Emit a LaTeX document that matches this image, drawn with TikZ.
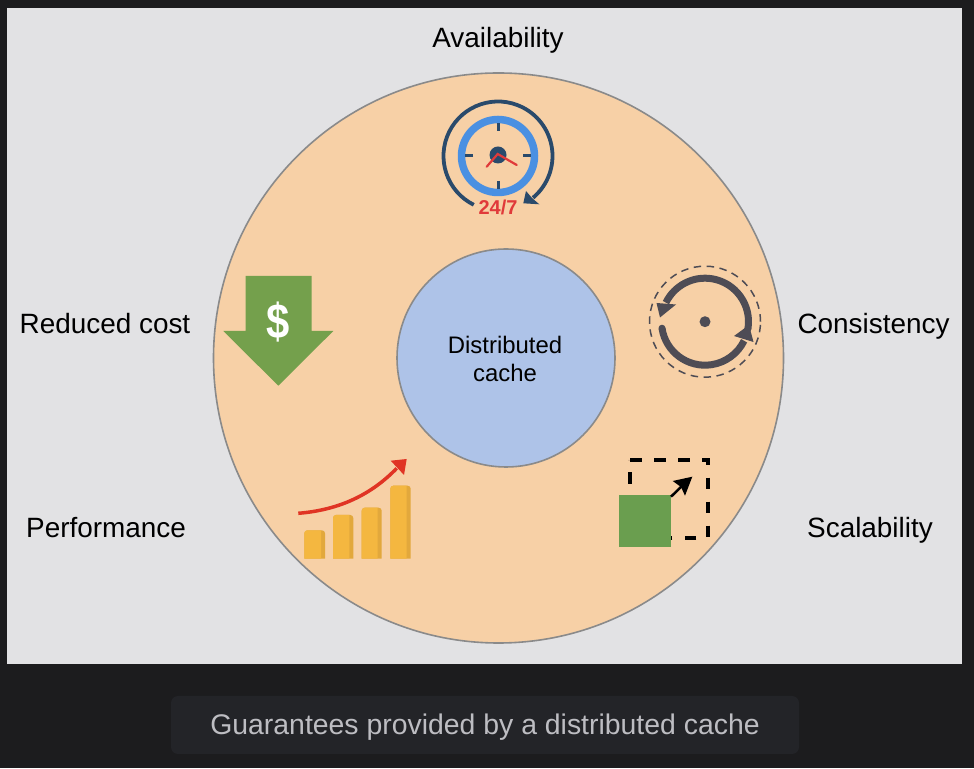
\documentclass[tikz,border=0pt]{standalone}
\usepackage{fontspec}
\setmainfont{Liberation Sans}
\definecolor{pagedark}{HTML}{1C1C1E}
\definecolor{panel}{HTML}{E2E2E4}
\definecolor{peach}{HTML}{F7D0A6}
\definecolor{ringline}{HTML}{8A8A8A}
\definecolor{paleblue}{HTML}{AEC3E8}
\definecolor{navy}{HTML}{2A4A6B}
\definecolor{clockblue}{HTML}{4A90E2}
\definecolor{redhand}{HTML}{E03A3A}
\definecolor{slate}{HTML}{4E4C55}
\definecolor{barfill}{HTML}{F4B740}
\definecolor{barshade}{HTML}{E2A83C}
\definecolor{arrowred}{HTML}{E03424}
\definecolor{squaregreen}{HTML}{6A9E4F}
\definecolor{costgreen}{HTML}{74A04C}
\definecolor{captionbox}{HTML}{232428}
\definecolor{captiontext}{HTML}{BDBDC2}
\tikzset{
  label text/.style={inner sep=0pt,anchor=base,font=\fontsize{27.9}{32}\selectfont,text=black},
  clocktick/.style={navy,line width=3pt},
  clockhand/.style={redhand,line width=2.2pt,line cap=round},
}
\begin{document}
\begin{tikzpicture}[x=1pt,y=1pt]
\useasboundingbox (0,0) rectangle (974,768);
\fill[pagedark] (0,0) rectangle (974,768);
\fill[panel] (7,104) rectangle (962,760);
% rings
\node[circle,draw=ringline,fill=peach,line width=1.6pt,minimum size=570pt,inner sep=0pt] (outer) at (498.5,410) {};
\node[circle,draw=ringline,fill=paleblue,line width=1.6pt,minimum size=218pt,inner sep=0pt] (inner) at (506,410) {};
\node[inner sep=0pt,align=center,font=\fontsize{23.9}{28.5}\selectfont] (innertext) at (505,409) {Distributed\\cache};
% labels
\node[label text] (avail) at (498,720) {Availability};
\node[label text] (cost) at (105,434) {Reduced cost};
\node[label text] (cons) at (873.5,434) {Consistency};
\node[label text] (perf) at (106,230) {Performance};
\node[label text] (scal) at (870,230) {Scalability};
% clock
\draw[navy,line width=3.8pt] (498,612) ++(243.6:54.5) arc[start angle=243.6,end angle=-50,radius=54.5];
\fill[navy] (523.3,564.7) -- (526,577) -- (532,570) -- (539.3,563.7) -- cycle;
\draw[clockblue,line width=7.5pt] (498,612) circle[radius=36.5];
\draw[clocktick] (498,637) -- (498,644.6);
\draw[clocktick] (498,587) -- (498,579.4);
\draw[clocktick] (473,612) -- (465.4,612);
\draw[clocktick] (523,612) -- (530.6,612);
\fill[navy] (498,613) circle[radius=8.5];
\draw[clockhand] (486.7,601.3) -- (497.7,614) -- (516.7,603);
\node[inner sep=0pt,text=redhand,font=\fontsize{20}{22}\selectfont\bfseries] (clocklabel) at (498,561) {24/7};
% consistency icon
\draw[slate,line width=1.5pt,dash pattern=on 7.5pt off 5.5pt] (705,446.3) circle[radius=55.5];
\fill[slate] (705,446.3) circle[radius=5.5];
\draw[slate,line width=7pt] (705,446.3) ++(-9.6:43.5) arc[start angle=-9.6,end angle=154,radius=43.5];
\fill[slate] (705,446.3) ++(-9.6:43.5) circle[radius=3.5];
\fill[slate] (660,450.5) -- (656.5,465) -- (676,463.5) -- cycle;
\draw[slate,line width=7pt] (705,446.3) ++(188.6:43.5) arc[start angle=188.6,end angle=334,radius=43.5];
\fill[slate] (705,446.3) ++(188.6:43.5) circle[radius=3.5];
\fill[slate] (749,443) -- (734,432) -- (753.5,426) -- cycle;
% cost icon
\fill[costgreen] (245.7,492) -- (311.7,492) -- (311.7,437) -- (333.3,437) -- (278.3,382.3) -- (223.3,437) -- (245.7,437) -- cycle;
\node[inner sep=0pt,text=white,font=\fontsize{44}{48}\selectfont\bfseries,xscale=.95,yscale=1.12,transform shape] (dollar) at (277.7,446.3) {\$};
% performance icon
\foreach \xa/\xb/\top in {304.3/325/237.7,333/353.3/253,361.7/381.7/260.3,390.3/410.7/282.3}{
  \fill[barshade] (\xa,209.3) -- (\xa,\top-3) arc[start angle=180,end angle=90,radius=3] -- (\xb-3,\top) arc[start angle=90,end angle=0,radius=3] -- (\xb,209.3) -- cycle;
  \fill[barfill] (\xa,209.3) -- (\xa,\top-3) arc[start angle=180,end angle=90,radius=3] -- (\xb-4,\top) -- (\xb-4,209.3) -- cycle;
}
\draw[arrowred,line width=3.5pt] (298.3,254.7) .. controls (340,258) and (372,274) .. (396.7,299.7);
\fill[arrowred] (406.7,309) -- (390.7,307.3) -- (404,293) -- cycle;
% scalability icon
\draw[black,line width=4pt,dash pattern=on 11.8pt off 12.2pt] (630,308) -- (708.3,308) -- (708.3,230.3) -- (630,230.3) -- (630,308);
\fill[squaregreen] (619,221.3) rectangle (671,273);
\draw[black,line width=2.5pt] (671,271.3) -- (683,283);
\fill[black] (692.3,291.3) -- (672.7,287) -- (681,281) -- (685,272.3) -- cycle;
% caption
\fill[captionbox,rounded corners=7pt] (171,14) rectangle (799,72);
\node[inner sep=0pt,anchor=base,text=captiontext,font=\fontsize{28.4}{30}\selectfont] (caption) at (485,34) {Guarantees provided by a distributed cache};
\end{tikzpicture}
\end{document}
